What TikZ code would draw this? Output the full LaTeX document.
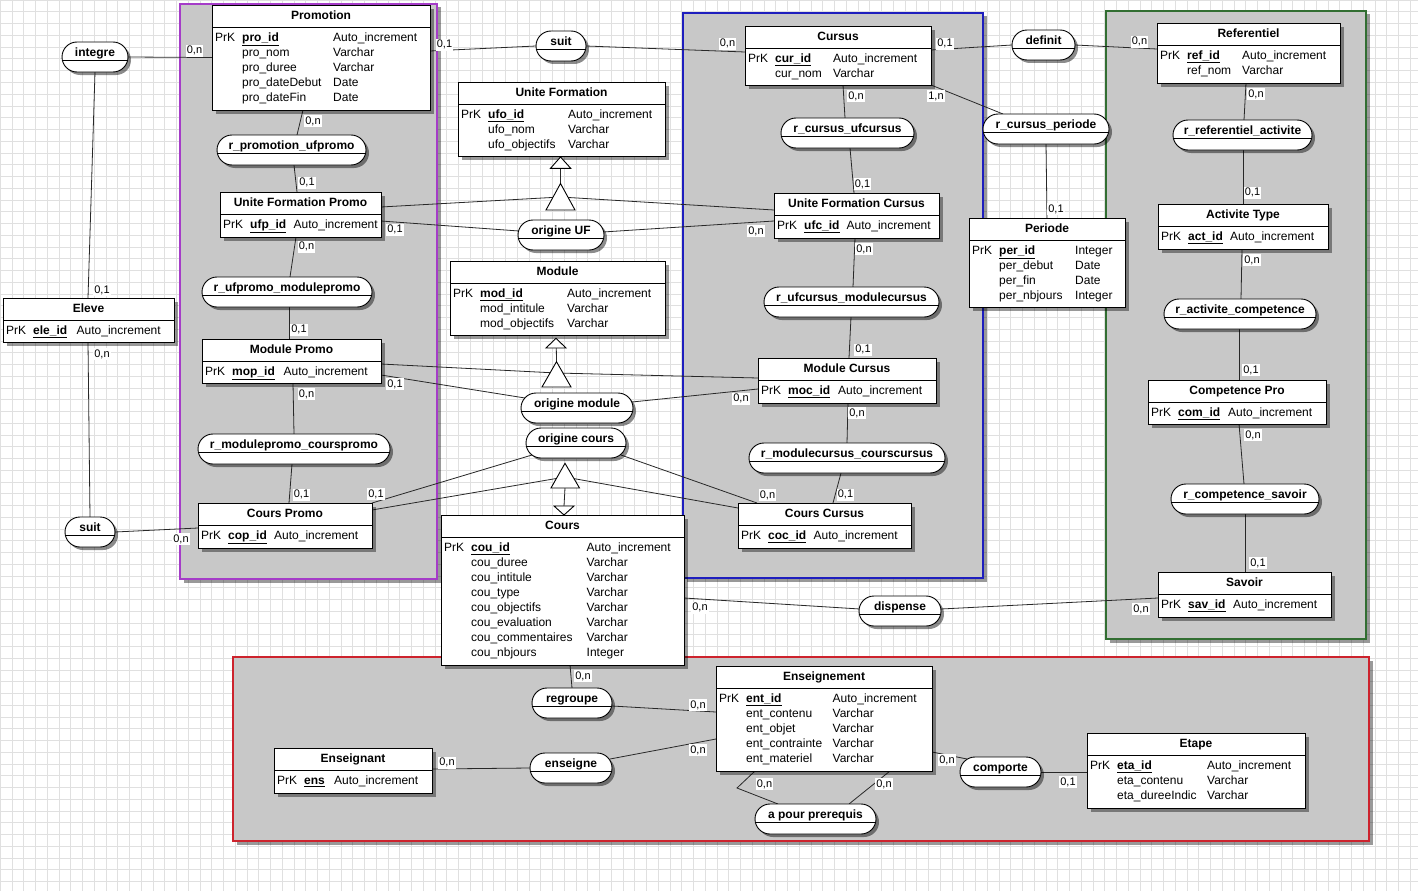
\documentclass[tikz,border=0pt]{standalone}
\usepackage{fontspec}
\setmainfont{Liberation Sans}
\usetikzlibrary{calc,shadows}
\pgfdeclarelayer{bg}
\pgfdeclarelayer{lines}
\pgfsetlayers{bg,lines,main}
\definecolor{grpfill}{RGB}{200,200,200}
\definecolor{gridc}{RGB}{224,224,224}
\definecolor{purpgrp}{RGB}{165,60,200}
\definecolor{bluegrp}{RGB}{30,30,190}
\definecolor{greengrp}{RGB}{50,110,50}
\definecolor{redgrp}{RGB}{205,35,45}
\definecolor{lnc}{RGB}{40,40,40}
\tikzset{
 shad/.style={drop shadow={shadow xshift=4pt,shadow yshift=-4pt,fill=black,opacity=0.4}},
 entbox/.style={draw=black,line width=0.9pt,fill=white,anchor=north west,inner sep=0pt,outer sep=0pt,shad},
 relbox/.style={draw=black,line width=0.9pt,fill=white,anchor=north west,inner sep=0pt,outer sep=0pt,minimum height=30pt,rounded corners=15pt,drop shadow={shadow xshift=3pt,shadow yshift=-3pt,fill=black,opacity=0.45}},
 ttl/.style={font=\fontsize{12}{14}\selectfont\bfseries,inner sep=0pt,text height=8.6pt,text depth=0pt},
 body/.style={anchor=north west,inner sep=0pt,font=\fontsize{12}{15}\selectfont},
 card/.style={fill=white,inner sep=1pt,font=\fontsize{11}{12}\selectfont,text height=8pt,text depth=2pt},
 link/.style={draw=lnc,line width=0.8pt},
 grp/.style={fill=grpfill,line width=1.2pt,drop shadow={shadow xshift=3.5pt,shadow yshift=-3.5pt,fill=black,opacity=0.4}},
 tri/.style={draw=black,line width=0.9pt,fill=white},
 gridline/.style={draw=gridc,line width=0.5pt},
}
\newcommand\pkey[1]{\underline{\textbf{#1}}}
\newcommand\mkent[8]{%
  \node[entbox,minimum width=#4pt,minimum height=#5pt] (#1) at (#2,#3) {};
  \draw[line width=0.9pt] ($(#1.north west)+(0,22)$) -- ($(#1.north east)+(0,22)$);
  \node[ttl] (#1-t) at ($(#1.north)+(0,10.6)$) {#6};
  \node[body] (#1-b) at ($(#1.north west)+(3,26)$) {\begin{tabular}{@{}p{27pt}@{}p{#7pt}@{}l@{}}#8\end{tabular}};
}
\newcommand\mkrel[5]{%
  \node[relbox,minimum width=#4pt] (#1) at (#2,#3) {};
  \draw[line width=0.9pt] ($(#1.north west)+(0,18)$) -- ($(#1.north east)+(0,18)$);
  \node[ttl] (#1-l) at ($(#1.north)+(0,10.5)$) {#5};
}
\newcommand\mkcard[4]{\node[card] (#1) at (#2,#3) {#4};}
\begin{document}
\begin{tikzpicture}[x=1pt,y=-1pt]
\useasboundingbox (0,0) rectangle (1418,891);
\begin{pgfonlayer}{bg}
\fill[white] (0,0) rectangle (1418,891);
\foreach \i in {0,...,121} {\draw[gridline] (\i*11.75,0) -- (\i*11.75,891);}
\foreach \j in {0,...,76} {\draw[gridline] (0,\j*11.75) -- (1418,\j*11.75);}
\draw[grp,draw=purpgrp] (180,4) rectangle (437,579);
\draw[grp,draw=bluegrp] (683,13) rectangle (983,578);
\draw[grp,draw=greengrp] (1106,11) rectangle (1366,639);
\draw[grp,draw=redgrp] (233,657) rectangle (1369,841);
\end{pgfonlayer}

% entities
\mkent{promo}{212}{5}{218}{105}{Promotion}{91}{PrK & \pkey{pro\_id} & Auto\_increment\\ & pro\_nom & Varchar\\ & pro\_duree & Varchar\\ & pro\_dateDebut & Date\\ & pro\_dateFin & Date}
\mkent{uf}{458}{82}{207}{74}{Unite Formation}{80}{PrK & \pkey{ufo\_id} & Auto\_increment\\ & ufo\_nom & Varchar\\ & ufo\_objectifs & Varchar}
\mkent{cursus}{745}{26}{186}{59}{Cursus}{58}{PrK & \pkey{cur\_id} & Auto\_increment\\ & cur\_nom & Varchar}
\mkent{ref}{1157}{23}{183}{60}{Referentiel}{55}{PrK & \pkey{ref\_id} & Auto\_increment\\ & ref\_nom & Varchar}
\mkent{ufp}{220}{192}{161}{45}{Unite Formation Promo}{43.5}{PrK & \pkey{ufp\_id} & Auto\_increment}
\mkent{ufc}{774}{193}{165}{45}{Unite Formation Cursus}{42.5}{PrK & \pkey{ufc\_id} & Auto\_increment}
\mkent{periode}{969}{218}{156}{89}{Periode}{76}{PrK & \pkey{per\_id} & Integer\\ & per\_debut & Date\\ & per\_fin & Date\\ & per\_nbjours & Integer}
\mkent{actt}{1158}{204}{170}{45}{Activite Type}{42}{PrK & \pkey{act\_id} & Auto\_increment}
\mkent{module}{450}{261}{215}{74}{Module}{87}{PrK & \pkey{mod\_id} & Auto\_increment\\ & mod\_intitule & Varchar\\ & mod\_objectifs & Varchar}
\mkent{eleve}{3}{298}{171}{44}{Eleve}{43.5}{PrK & \pkey{ele\_id} & Auto\_increment}
\mkent{modp}{202}{339}{179}{44}{Module Promo}{51.5}{PrK & \pkey{mop\_id} & Auto\_increment}
\mkent{modc}{758}{358}{178}{45}{Module Cursus}{50}{PrK & \pkey{moc\_id} & Auto\_increment}
\mkent{comp}{1148}{380}{178}{44}{Competence Pro}{50}{PrK & \pkey{com\_id} & Auto\_increment}
\mkent{coursp}{198}{503}{174}{45}{Cours Promo}{46}{PrK & \pkey{cop\_id} & Auto\_increment}
\mkent{coursc}{738}{503}{173}{45}{Cours Cursus}{45.5}{PrK & \pkey{coc\_id} & Auto\_increment}
\mkent{cours}{441}{515}{243}{150}{Cours}{115.5}{PrK & \pkey{cou\_id} & Auto\_increment\\ & cou\_duree & Varchar\\ & cou\_intitule & Varchar\\ & cou\_type & Varchar\\ & cou\_objectifs & Varchar\\ & cou\_evaluation & Varchar\\ & cou\_commentaires & Varchar\\ & cou\_nbjours & Integer}
\mkent{savoir}{1158}{572}{173}{45}{Savoir}{45}{PrK & \pkey{sav\_id} & Auto\_increment}
\mkent{enst}{716}{666}{216}{105}{Enseignement}{86.5}{PrK & \pkey{ent\_id} & Auto\_increment\\ & ent\_contenu & Varchar\\ & ent\_objet & Varchar\\ & ent\_contrainte & Varchar\\ & ent\_materiel & Varchar}
\mkent{ensg}{274}{748}{158}{45}{Enseignant}{30}{PrK & \pkey{ens} & Auto\_increment}
\mkent{etape}{1087}{733}{218}{75}{Etape}{90}{PrK & \pkey{eta\_id} & Auto\_increment\\ & eta\_contenu & Varchar\\ & eta\_dureeIndic & Varchar}

% relations
\mkrel{integre}{62}{42}{66}{integre}
\mkrel{suitA}{536}{31}{50}{suit}
\mkrel{definit}{1012}{30}{63}{definit}
\mkrel{rpu}{217}{135}{149}{r\_promotion\_ufpromo}
\mkrel{rcu}{781}{118}{133}{r\_cursus\_ufcursus}
\mkrel{rcp}{983}{114}{126}{r\_cursus\_periode}
\mkrel{rra}{1173}{120}{139}{r\_referentiel\_activite}
\mkrel{ouf}{518}{220}{86}{origine UF}
\mkrel{rum}{202}{277}{170}{r\_ufpromo\_modulepromo}
\mkrel{rucm}{764}{287}{175}{r\_ufcursus\_modulecursus}
\mkrel{rac}{1164}{299}{152}{r\_activite\_competence}
\mkrel{om}{521}{393}{112}{origine module}
\mkrel{oc}{526}{428}{100}{origine cours}
\mkrel{rmc}{198}{434}{192}{r\_modulepromo\_courspromo}
\mkrel{rmcc}{749}{443}{196}{r\_modulecursus\_courscursus}
\mkrel{rcs}{1171}{484}{148}{r\_competence\_savoir}
\mkrel{suitB}{65}{517}{50}{suit}
\mkrel{dispense}{859}{596}{82}{dispense}
\mkrel{regroupe}{532}{688}{80}{regroupe}
\mkrel{enseigne}{530}{753}{82}{enseigne}
\mkrel{apr}{755}{804}{121}{a pour prerequis}
\mkrel{comporte}{960}{757}{81}{comporte}

% inheritance meeting points
\coordinate (iUF) at (560.5,197);
\coordinate (iMod) at (556.5,373);
\coordinate (iCours) at (565,477);
\coordinate (bendA) at (737,788);

\begin{pgfonlayer}{lines}
\draw[link] (integre.east) -- (promo.west);
\draw[link] (integre.south) -- ($(eleve.north west)+(85,0)$);
\draw[link] ($(eleve.north west)+(85,44)$) -- (suitB.north);
\draw[link] (suitB.east) -- ($(coursp.north west)+(0,25)$);
\draw[link] ($(promo.north west)+(218,46)$) -- (suitA.west);
\draw[link] (suitA.east) -- ($(cursus.north west)+(0,26)$);
\draw[link] ($(cursus.north west)+(186,24)$) -- (definit.west);
\draw[link] (definit.east) -- ($(ref.north west)+(0,26)$);
\draw[link] (cursus.south east) -- ($(rcp.north west)+(20,0)$);
\draw[link] (rcp.south) -- (periode.north);
\draw[link] ($(cursus.north west)+(98,59)$) -- ($(rcu.north west)+(64,0)$);
\draw[link] ($(rcu.north west)+(69,30)$) -- ($(ufc.north west)+(80,0)$);
\draw[link] ($(promo.north west)+(91,105)$) -- ($(rpu.north west)+(80,0)$);
\draw[link] ($(rpu.north west)+(77,30)$) -- ($(ufp.north west)+(77,0)$);
\draw[link] ($(ufp.north west)+(76,45)$) -- ($(rum.north west)+(88,0)$);
\draw[link] ($(rum.north west)+(87,30)$) -- ($(modp.north west)+(87,0)$);
\draw[link] ($(modp.north west)+(91,44)$) -- ($(rmc.north west)+(96,0)$);
\draw[link] ($(rmc.north west)+(94,30)$) -- ($(coursp.north west)+(91,0)$);
\draw[link] ($(ufc.north west)+(81,45)$) -- ($(rucm.north west)+(89,0)$);
\draw[link] ($(rucm.north west)+(87,30)$) -- ($(modc.north west)+(91,0)$);
\draw[link] ($(modc.north west)+(90,45)$) -- ($(rmcc.north west)+(98,0)$);
\draw[link] ($(rmcc.north west)+(92,30)$) -- ($(coursc.north west)+(95,0)$);
\draw[link] ($(ref.north west)+(89,60)$) -- ($(rra.north west)+(71,0)$);
\draw[link] ($(rra.north west)+(70,30)$) -- (actt.north);
\draw[link] ($(actt.north west)+(84,45)$) -- ($(rac.north west)+(77,0)$);
\draw[link] ($(rac.north west)+(75,30)$) -- ($(comp.north west)+(91,0)$);
\draw[link] ($(comp.north west)+(91,44)$) -- ($(rcs.north west)+(73,0)$);
\draw[link] ($(rcs.north west)+(74,30)$) -- ($(savoir.north west)+(87,0)$);
% origine UF
\draw[link] ($(ufp.north west)+(161,29)$) -- ($(ouf.north west)+(1,11)$);
\draw[link] ($(ouf.north west)+(85,12)$) -- ($(ufc.north west)+(0,28)$);
\draw[link] ($(ufp.north west)+(161,15)$) -- (iUF) -- ($(ufc.north west)+(0,17)$);
% origine module
\draw[link] ($(modp.north west)+(179,25)$) -- (iMod) -- ($(modc.north west)+(0,20)$);
\draw[link] ($(modp.north west)+(179,36)$) -- ($(om.north west)+(4,5)$);
\draw[link] ($(om.north west)+(111,9)$) -- ($(modc.north west)+(0,31)$);
% origine cours
\draw[link] ($(coursp.north west)+(174,7)$) -- (iCours) -- ($(coursc.north west)+(0,5)$);
\draw[link] (coursp.north east) -- ($(oc.north west)+(6,27)$);
\draw[link] ($(oc.north west)+(95,27)$) -- ($(coursc.north west)+(19,0)$);
% lower part
\draw[link] ($(cours.north west)+(243,83)$) -- ($(dispense.north west)+(1,13)$);
\draw[link] ($(dispense.north west)+(82,13)$) -- ($(savoir.north west)+(0,26)$);
\draw[link] ($(cours.north west)+(129,150)$) -- (regroupe.north);
\draw[link] ($(regroupe.north west)+(80,18)$) -- ($(enst.north west)+(0,46)$);
\draw[link] ($(ensg.north west)+(158,21)$) -- (enseigne.west);
\draw[link] ($(enseigne.north west)+(80,6)$) -- ($(enst.north west)+(0,73)$);
\draw[link] ($(enst.north west)+(216,86)$) -- ($(comporte.north west)+(7,2)$);
\draw[link] (comporte.east) -- ($(etape.north west)+(0,39)$);
\draw[link] ($(enst.north west)+(39,105)$) -- (bendA) -- ($(apr.north west)+(23,0)$);
\draw[link] ($(enst.north west)+(174,105)$) -- ($(apr.north west)+(94,0)$);
% stems of inheritance symbols
\draw[link] (560.5,168) -- (560.5,184);
\draw[link] (556.3,348) -- (556.5,362);
\draw[link] (565,488) -- (564,506);
\end{pgfonlayer}

% inheritance triangles
\draw[tri] (546,210) -- (560.5,183.5) -- (575,210) -- cycle;
\draw[tri] (550.5,168.3) -- (560.5,157) -- (570.7,168.3) -- cycle;
\draw[tri] (542,387) -- (556.5,361.7) -- (571,387) -- cycle;
\draw[tri] (546,348) -- (556,338.3) -- (566,348) -- cycle;
\draw[tri] (551,488) -- (565,463.3) -- (579.5,488) -- cycle;
\draw[tri] (554,506) -- (564,515) -- (574,506) -- cycle;

% cardinalities
\mkcard{k1}{194.5}{51}{0,n}
\mkcard{k2}{102}{290}{0,1}
\mkcard{k3}{102}{354}{0,n}
\mkcard{k4}{181}{539}{0,n}
\mkcard{k5}{444.5}{45}{0,1}
\mkcard{k6}{727.5}{44}{0,n}
\mkcard{k7}{945}{44}{0,1}
\mkcard{k8}{1139.5}{42}{0,n}
\mkcard{k9}{936}{96}{1,n}
\mkcard{k10}{1056}{209}{0,1}
\mkcard{k11}{856}{96}{0,n}
\mkcard{k12}{862.5}{184}{0,1}
\mkcard{k13}{313}{121}{0,n}
\mkcard{k14}{307}{182.5}{0,1}
\mkcard{k15}{306.5}{246.5}{0,n}
\mkcard{k16}{299}{329.5}{0,1}
\mkcard{k17}{306.5}{394}{0,n}
\mkcard{k18}{301.5}{494.5}{0,1}
\mkcard{k19}{864}{249}{0,n}
\mkcard{k20}{863}{349.5}{0,1}
\mkcard{k21}{857}{413}{0,n}
\mkcard{k22}{845.5}{494.5}{0,1}
\mkcard{k23}{1256}{94}{0,n}
\mkcard{k24}{1252.5}{192.5}{0,1}
\mkcard{k25}{1252}{260}{0,n}
\mkcard{k26}{1251}{370}{0,1}
\mkcard{k27}{1253}{435}{0,n}
\mkcard{k28}{1258}{563}{0,1}
\mkcard{k29}{395}{229.5}{0,1}
\mkcard{k30}{756}{231}{0,n}
\mkcard{k31}{395}{384}{0,1}
\mkcard{k32}{741}{398.5}{0,n}
\mkcard{k33}{376}{494}{0,1}
\mkcard{k34}{767.5}{495}{0,n}
\mkcard{k35}{700}{607.5}{0,n}
\mkcard{k36}{1141}{609}{0,n}
\mkcard{k37}{583}{676}{0,n}
\mkcard{k38}{698}{705}{0,n}
\mkcard{k39}{447}{762.5}{0,n}
\mkcard{k40}{698}{750}{0,n}
\mkcard{k41}{947}{760}{0,n}
\mkcard{k42}{1068}{782}{0,1}
\mkcard{k43}{764.5}{784}{0,n}
\mkcard{k44}{884}{784}{0,n}
\end{tikzpicture}
\end{document}
